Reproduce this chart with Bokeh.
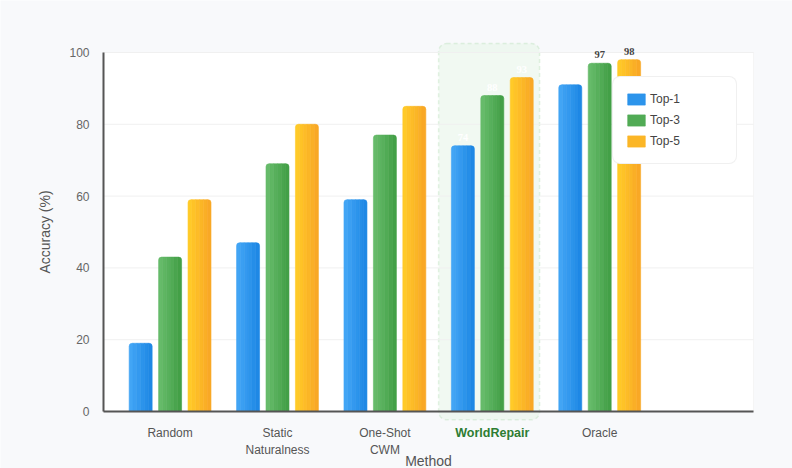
import numpy as np
from bokeh.plotting import figure
from bokeh.models import (ColumnDataSource, Range1d, FixedTicker, BoxAnnotation,
                          Label, LabelSet, Legend, LegendItem)
from bokeh.core.properties import field
from bokeh.embed import file_html
from bokeh.resources import INLINE

# ---- data -------------------------------------------------------------
methods = ["Random", "Static\nNaturalness", "One-Shot\nCWM", "WorldRepair", "Oracle"]
series = ["Top-1", "Top-3", "Top-5"]
top1 = [19, 47, 59, 74, 91]
top3 = [43, 69, 77, 88, 97]
top5 = [59, 80, 85, 93, 98]
y_ticks = [0, 20, 40, 60, 80, 100]
highlight = "WorldRepair"
# value labels printed above bars: (method, series, text colour)
shown_labels = [
    ("WorldRepair", "Top-1", "#ffffff"),
    ("WorldRepair", "Top-3", "#ffffff"),
    ("WorldRepair", "Top-5", "#ffffff"),
    ("Oracle", "Top-3", "#444444"),
    ("Oracle", "Top-5", "#444444"),
]

# ---- style / layout ---------------------------------------------------
FONT = "Liberation Sans"
gradients = {
    "Top-1": ("#42a5f5", "#1e88e5"),
    "Top-3": ("#66bb6a", "#43a047"),
    "Top-5": ("#ffca28", "#f9a825"),
}
bar_w = 0.214     # width of one bar (x units = one method slot)
step = 0.274      # distance between bars within a group
n_strips = 6      # horizontal gradient slices per bar
W, H = 792, 468
# plotting area (white panel) in data units
AREA_X = (-0.62, 5.432)
AREA_Y = (0, 100)
# visible ranges: the frame fills the whole canvas, the white panel sits inside
X_RANGE = (-1.579, 5.795)
Y_RANGE = (-15.88, 114.48)


def mix(c1, c2, t):
    a = np.array([int(c1[i:i + 2], 16) for i in (1, 3, 5)], dtype=float)
    b = np.array([int(c2[i:i + 2], 16) for i in (1, 3, 5)], dtype=float)
    c = np.round(a + (b - a) * t).astype(int)
    return "#%02x%02x%02x" % tuple(c)


p = figure(width=W, height=H, output_backend="svg", toolbar_location=None,
           x_range=Range1d(*X_RANGE), y_range=Range1d(*Y_RANGE), min_border=0)
p.background_fill_color = "#f8f9fb"
p.border_fill_color = "#f8f9fb"
p.outline_line_color = None
p.xgrid.visible = False
p.ygrid.visible = False

# white plotting panel
p.add_layout(BoxAnnotation(left=AREA_X[0], right=AREA_X[1], bottom=AREA_Y[0], top=AREA_Y[1],
                           fill_color="#ffffff", fill_alpha=1.0,
                           line_color="#e6e6e6", line_width=1, level="underlay"))

# highlight behind the proposed method
hi = methods.index(highlight)
box = BoxAnnotation(left=hi - 0.5, right=hi + 0.44, bottom=-2.3, top=102.5,
                    fill_color="#e8f5e9", fill_alpha=0.6,
                    line_color="#a5d6a7", line_width=1.5, line_dash="4 3",
                    level="underlay")
if "border_radius" in BoxAnnotation.properties():
    box.border_radius = 8
p.add_layout(box)

# horizontal grid lines at the y ticks
p.segment(x0=[AREA_X[0]] * len(y_ticks), x1=[AREA_X[1]] * len(y_ticks),
          y0=y_ticks, y1=y_ticks, line_color="#f0f0f0", line_width=1)

# ---- bars (each drawn as a few vertical slices to get a gradient) -----
values = {"Top-1": top1, "Top-3": top3, "Top-5": top5}
legend_items = []
for s_idx, name in enumerate(series):
    c_left, c_right = gradients[name]
    offset = (s_idx - 1) * step
    parts = {"l": dict(x=[], top=[], color=[]),
             "m": dict(x=[], top=[], color=[]),
             "r": dict(x=[], top=[], color=[])}
    for g, v in enumerate(values[name]):
        x0 = g + offset - bar_w / 2
        for k in range(n_strips):
            key = "l" if k == 0 else ("r" if k == n_strips - 1 else "m")
            parts[key]["x"].append(x0 + (k + 0.5) * bar_w / n_strips)
            parts[key]["top"].append(v)
            parts[key]["color"].append(mix(c_left, c_right, k / (n_strips - 1)))
    radii = {"l": (3, 0, 0, 0), "m": 0, "r": (0, 3, 0, 0)}
    rends = {}
    for key in ("l", "m", "r"):
        rends[key] = p.vbar(x="x", top="top", bottom=0, width=bar_w / n_strips,
                            source=ColumnDataSource(parts[key]),
                            fill_color="color", line_color="color", line_width=0.6,
                            border_radius=radii[key])
    legend_items.append(LegendItem(label=name, renderers=[rends["m"]],
                                   index=(n_strips - 2) // 2))

# ---- value labels -----------------------------------------------------
lab = dict(x=[], y=[], text=[], color=[])
for m, s, col in shown_labels:
    g = methods.index(m)
    v = values[s][g]
    lab["x"].append(g + (series.index(s) - 1) * step)
    lab["y"].append(v)
    lab["text"].append(str(v))
    lab["color"].append(col)
p.add_layout(LabelSet(x="x", y="y", text="text", source=ColumnDataSource(lab),
                      text_color=field("color"), text_align="center",
                      text_baseline="bottom", y_offset=5,
                      text_font=FONT, text_font_size="10.5px",
                      text_font_style="bold"))

# ---- axes (pinned to the edges of the white panel) --------------------
ya = p.yaxis[0]
ya.fixed_location = AREA_X[0]
ya.bounds = AREA_Y
ya.ticker = FixedTicker(ticks=y_ticks)
ya.axis_line_color = "#555555"
ya.axis_line_width = 2
ya.major_tick_line_color = None
ya.minor_tick_line_color = None
ya.major_label_text_color = "#666666"
ya.major_label_text_font = FONT
ya.major_label_text_font_size = "12px"
ya.major_label_standoff = 8
ya.axis_label = "Accuracy (%)"
ya.axis_label_text_font = FONT
ya.axis_label_text_font_size = "14px"
ya.axis_label_text_font_style = "normal"
ya.axis_label_text_color = "#555555"
ya.axis_label_standoff = 13

xa = p.xaxis[0]
xa.fixed_location = AREA_Y[0]
xa.bounds = AREA_X
xa.ticker = FixedTicker(ticks=list(range(len(methods))))
xa.major_label_overrides = {i: ("" if m == highlight else m) for i, m in enumerate(methods)}
xa.axis_line_color = "#555555"
xa.axis_line_width = 2
xa.major_tick_line_color = None
xa.minor_tick_line_color = None
xa.major_label_text_color = "#555555"
xa.major_label_text_font = FONT
xa.major_label_text_font_size = "12px"
xa.major_label_standoff = 9

# the proposed method's name, set in bold green under its group
p.add_layout(Label(x=hi, y=-6.1, text=highlight,
                   text_align="center", text_baseline="middle",
                   text_font=FONT, text_font_size="12.5px", text_font_style="bold",
                   text_color="#2e7d32"))
# x-axis title
p.add_layout(Label(x=(AREA_X[0] + AREA_X[1]) / 2, y=-13.9, text="Method",
                   text_align="center", text_baseline="middle",
                   text_font=FONT, text_font_size="14px", text_color="#555555"))

# ---- legend -----------------------------------------------------------
legend = Legend(items=legend_items, location=(612, 304), orientation="vertical",
                background_fill_color="#ffffff", background_fill_alpha=1.0,
                border_line_color="#e2e2e2", border_line_width=1,
                label_text_font=FONT, label_text_font_size="12px",
                label_text_color="#444444",
                glyph_width=22, glyph_height=14, label_height=20,
                spacing=1, padding=12, label_standoff=3, label_width=74, margin=0)
if "border_radius" in Legend.properties():
    legend.border_radius = 8
p.add_layout(legend)

open("out.html", "w").write(file_html(p, INLINE))
